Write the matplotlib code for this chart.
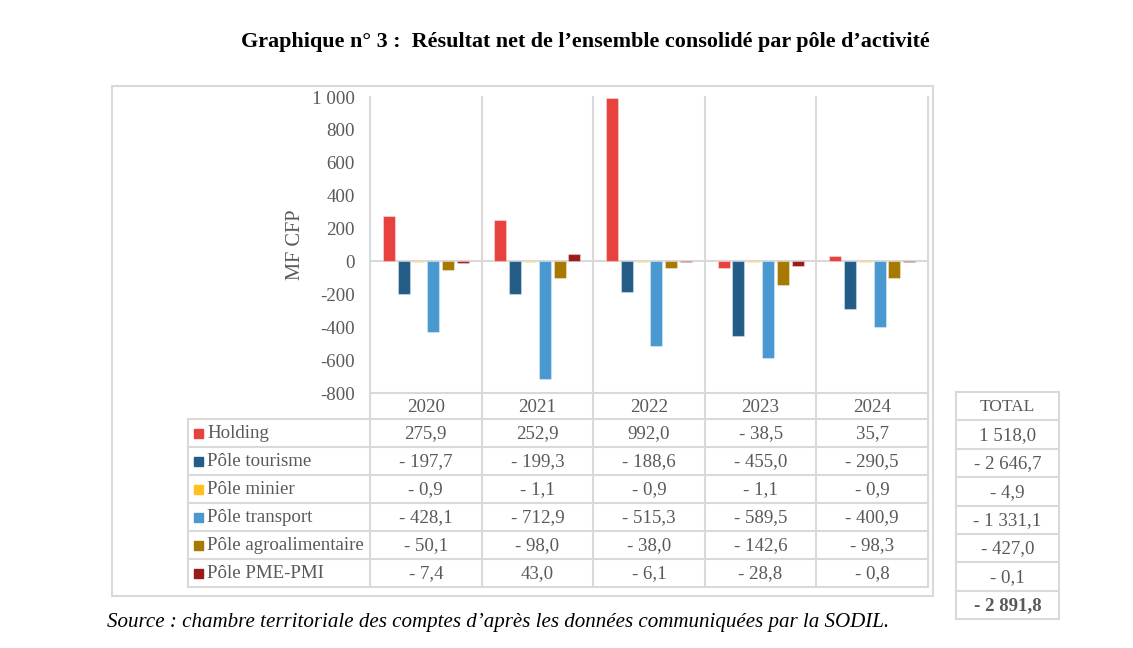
import matplotlib.pyplot as plt
import numpy as np

# data
years = ['2020', '2021', '2022', '2023', '2024']
poles = ['Holding', 'Pôle tourisme', 'Pôle minier', 'Pôle transport',
         'Pôle agroalimentaire', 'Pôle PME-PMI']
holding = [275.9, 252.9, 992.0, -38.5, 35.7]
tourisme = [-197.7, -199.3, -188.6, -455.0, -290.5]
minier = [-0.9, -1.1, -0.9, -1.1, -0.9]
transport = [-428.1, -712.9, -515.3, -589.5, -400.9]
agro = [-50.1, -98.0, -38.0, -142.6, -98.3]
pme = [-7.4, 43.0, -6.1, -28.8, -0.8]
totals = [1518.0, -2646.7, -4.9, -1331.1, -427.0, -0.1]
grand_total = -2891.8

series = [holding, tourisme, minier, transport, agro, pme]
colors = ['#E8423F', '#235D87', '#FFC020', '#4A98D0', '#A67A00', '#9B1B1B']
yticks = list(range(-800, 1001, 200))

plt.rcParams['font.family'] = ['Liberation Serif', 'DejaVu Serif']
GRID = '#D9D9D9'
TXT = '#595959'
FS = 13.6


def fr(v, dec=1):
    s = f'{abs(v):,.{dec}f}'.replace(',', ' ').replace('.', ',')
    return '- ' + s if v < 0 else s


def fr_tick(v, pos=None):
    s = f'{abs(v):,.0f}'.replace(',', ' ')
    return '-' + s if v < 0 else s


W, H = 1133, 648
fig = plt.figure(figsize=(W / 100, H / 100), dpi=100)

# overlay axes in pixel coordinates for table and frames
ov = fig.add_axes([0, 0, 1, 1], zorder=0)
ov.set_xlim(0, W)
ov.set_ylim(H, 0)
ov.axis('off')

# plot area
x0, x1, ytop, ybot = 370, 928, 97, 393
ax = fig.add_axes([x0 / W, 1 - ybot / H, (x1 - x0) / W, (ybot - ytop) / H], zorder=1)
ax.patch.set_alpha(0)

n = len(series)
step = 0.1326
width = 0.108
x = np.arange(len(years))
for j, (vals, c) in enumerate(zip(series, colors)):
    ax.bar(x + (j - (n - 1) / 2) * step, vals, width, color=c,
           edgecolor=(1, 1, 1, 0.35), linewidth=0.8, zorder=3)

ax.set_xlim(-0.5, len(years) - 0.5)
ax.set_ylim(-800, 1000)
ax.set_yticks(yticks)
ax.yaxis.set_major_formatter(plt.FuncFormatter(fr_tick))
ax.tick_params(axis='y', length=0, labelsize=FS, labelcolor=TXT, pad=11)
ax.set_xticks([])
for s in ax.spines.values():
    s.set_visible(False)
ax.axhline(0, color=GRID, lw=1.5, zorder=2)
ax.set_ylabel('MF CFP', fontsize=14.7, color=TXT)
ax.yaxis.set_label_coords((305 - x0) / (x1 - x0), 0.5)

# outer frame
ov.add_patch(plt.Rectangle((112, 86), 821, 510, fill=False, ec=GRID, lw=1.5))

# data table
col_w = (x1 - x0) / len(years)
cols = [x0 + i * col_w for i in range(len(years) + 1)]
rows = [419 + 28 * i for i in range(len(poles) + 1)]
for cx in cols:
    ov.plot([cx, cx], [ytop, rows[-1]], color=GRID, lw=1.5)
ov.plot([188, 188], [rows[0], rows[-1]], color=GRID, lw=1.5)
ov.plot([x0, x1], [ybot, ybot], color=GRID, lw=1.5)
for ry in rows:
    ov.plot([188, x1], [ry, ry], color=GRID, lw=1.5)

for i, yr in enumerate(years):
    ov.text(cols[i] + col_w / 2, (ybot + rows[0]) / 2 + 1, yr, ha='center', va='center',
            fontsize=FS, color=TXT)

for r, (name, vals, c) in enumerate(zip(poles, series, colors)):
    cy = (rows[r] + rows[r + 1]) / 2 + 1
    ov.add_patch(plt.Rectangle((194, cy - 5), 9, 9, color=c))
    ov.text(207, cy, name, ha='left', va='center', fontsize=FS, color=TXT)
    for i, v in enumerate(vals):
        ov.text(cols[i] + col_w / 2, cy, fr(v), ha='center', va='center',
                fontsize=FS, color=TXT)

# total column
tx0, tx1 = 956, 1059
trows = np.linspace(392, 619, len(poles) + 3)
ov.plot([tx0, tx0], [trows[0], trows[-1]], color=GRID, lw=1.5)
ov.plot([tx1, tx1], [trows[0], trows[-1]], color=GRID, lw=1.5)
for ry in trows:
    ov.plot([tx0, tx1], [ry, ry], color=GRID, lw=1.5)
labels = ['TOTAL'] + [fr(v) for v in totals] + [fr(grand_total)]
for k, lab in enumerate(labels):
    cy = (trows[k] + trows[k + 1]) / 2 + 1
    ov.text((tx0 + tx1) / 2, cy, lab, ha='center', va='center',
            fontsize=12.5 if k == 0 else FS, color=TXT,
            fontweight='bold' if k == len(labels) - 1 else 'normal')

# title and source
ov.text(585, 42, 'Graphique n° 3 :  Résultat net de l’ensemble consolidé par pôle d’activité',
        ha='center', va='center', fontsize=15.9, fontweight='bold', color='black')
ov.text(107, 622, 'Source : chambre territoriale des comptes d’après les données communiquées par la SODIL.',
        ha='left', va='center', fontsize=15.1, fontstyle='italic', color='black')

fig.savefig('out.png', dpi=100)
